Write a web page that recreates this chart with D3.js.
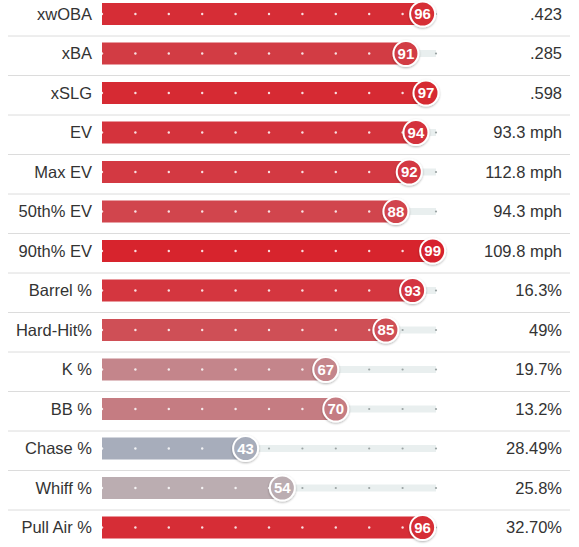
<!DOCTYPE html>
<html>
<head>
<meta charset="utf-8">
<script src="https://cdn.jsdelivr.net/npm/d3@7"></script>
<style>
  html, body { margin: 0; padding: 0; background: #fff; }
  svg { display: block; font-family: "Liberation Sans", Arial, sans-serif; }
</style>
</head>
<body>
<div id="chart"></div>
<script>
// Percentile rankings
const metrics = ['xwOBA', 'xBA', 'xSLG', 'EV', 'Max EV', '50th% EV', '90th% EV',
  'Barrel %', 'Hard-Hit%', 'K %', 'BB %', 'Chase %', 'Whiff %', 'Pull Air %'];
const percentiles = [96, 91, 97, 94, 92, 88, 99, 93, 85, 67, 70, 43, 54, 96];
const statValues = ['.423', '.285', '.598', '93.3 mph', '112.8 mph', '94.3 mph', '109.8 mph',
  '16.3%', '49%', '19.7%', '13.2%', '28.49%', '25.8%', '32.70%'];
const dotTicks = [0, 10, 20, 30, 40, 50, 60, 70, 80, 90, 100];

const width = 579, height = 547;
const rowH = 39.5;
const barH = 22, trackH = 7, r = 12.5;

const svg = d3.select('#chart').append('svg')
  .attr('width', width).attr('height', height);

const defs = svg.append('defs');
defs.append('filter').attr('id', 'shadow')
  .attr('x', '-30%').attr('y', '-30%').attr('width', '160%').attr('height', '160%')
  .append('feDropShadow')
  .attr('dx', 0).attr('dy', 1).attr('stdDeviation', 1)
  .attr('flood-color', '#000').attr('flood-opacity', 0.3);

const x = d3.scaleLinear().domain([0, 100]).range([102, 436]);
const y = d3.scaleBand().domain(metrics)
  .range([-3.5, -3.5 + rowH * metrics.length]).paddingInner(0).paddingOuter(0);

const color = d3.scaleLinear().domain([0, 50, 100])
  .range(['#3661ad', '#b9b9bd', '#d8212a']);

const rows = svg.selectAll('g.row')
  .data(metrics.map((m, i) => ({ m, p: percentiles[i], v: statValues[i] })))
  .join('g')
  .attr('class', 'row')
  .attr('transform', d => `translate(0,${y(d.m) + 17.5})`);

// separators
rows.append('line')
  .attr('x1', 8).attr('x2', 570)
  .attr('y1', y.bandwidth() - 17.5).attr('y2', y.bandwidth() - 17.5)
  .attr('stroke', '#dcdcdc').attr('stroke-width', 1);

// labels
rows.append('text')
  .attr('x', 92).attr('y', 0).attr('dy', '0.35em')
  .attr('text-anchor', 'end').attr('font-size', '16.5px').attr('fill', '#333')
  .text(d => d.m);

// track
rows.append('rect')
  .attr('x', x(0)).attr('y', -trackH / 2)
  .attr('width', x(100) - x(0)).attr('height', trackH)
  .attr('fill', '#e9efef');

rows.each(function (d) {
  d3.select(this).selectAll('circle.tdot')
    .data(dotTicks.filter(t => t > d.p))
    .join('circle').attr('class', 'tdot')
    .attr('cx', t => x(t)).attr('cy', 0).attr('r', 1.1)
    .attr('fill', '#9aa3a3');
});

// bar
rows.append('rect')
  .attr('x', x(0)).attr('y', -barH / 2)
  .attr('width', d => x(d.p) - x(0)).attr('height', barH)
  .attr('fill', d => color(d.p));

rows.each(function (d) {
  d3.select(this).selectAll('circle.bdot')
    .data(dotTicks.filter(t => t <= d.p))
    .join('circle').attr('class', 'bdot')
    .attr('cx', t => x(t)).attr('cy', 0).attr('r', 1.2)
    .attr('fill', '#fff').attr('opacity', 0.85);
});

// percentile bubble
rows.append('circle')
  .attr('cx', d => x(d.p)).attr('cy', 0).attr('r', r)
  .attr('fill', d => color(d.p))
  .attr('stroke', '#fff').attr('stroke-width', 2)
  .attr('filter', 'url(#shadow)');

rows.append('text')
  .attr('x', d => x(d.p)).attr('y', 0).attr('dy', '0.36em')
  .attr('text-anchor', 'middle').attr('font-size', '15px').attr('font-weight', 'bold')
  .attr('fill', '#fff')
  .text(d => d.p);

// stat values
rows.append('text')
  .attr('x', 562).attr('y', 0).attr('dy', '0.35em')
  .attr('text-anchor', 'end').attr('font-size', '16.5px').attr('fill', '#333')
  .text(d => d.v);
</script>
</body>
</html>
